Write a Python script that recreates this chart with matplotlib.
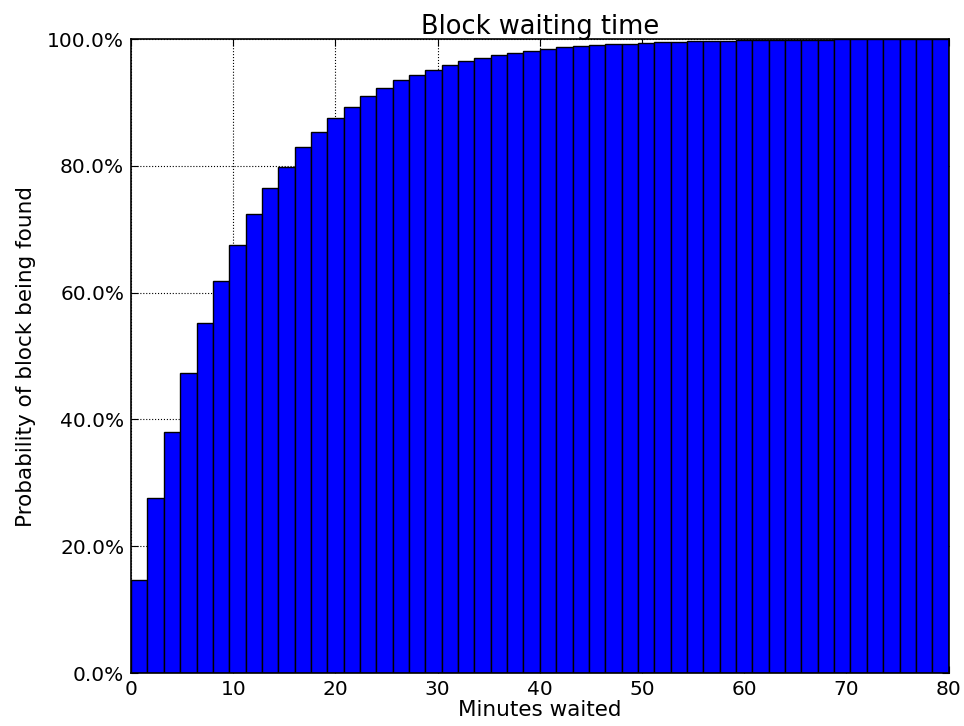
import numpy as np
import matplotlib
matplotlib.use('Agg')
import matplotlib.pyplot as plt
from matplotlib.ticker import FuncFormatter

# cumulative share of blocks found, one value per bin (bin width 1.6 min)
bin_width = 1.6
probs = [14.7, 27.6, 38.0, 47.3, 55.2, 61.8, 67.5, 72.4, 76.5, 79.8,
         83.0, 85.3, 87.5, 89.3, 91.0, 92.3, 93.5, 94.3, 95.2, 95.9,
         96.5, 97.0, 97.5, 97.9, 98.2, 98.5, 98.7, 98.9, 99.1, 99.2,
         99.3, 99.4, 99.5, 99.6, 99.65, 99.7, 99.75, 99.8, 99.85, 99.9,
         99.92, 99.94, 99.95, 99.96, 99.97, 99.98, 99.99, 100.0, 100.0, 100.0]
edges = np.arange(len(probs)) * bin_width

fig = plt.figure(figsize=(9.64, 7.26), dpi=100)
ax = fig.add_axes([0.136, 0.073, 0.848, 0.873])

ax.bar(edges, np.array(probs) / 100.0, width=bin_width, align='edge',
       color='#0000ff', edgecolor='black', linewidth=1.0, zorder=2)

ax.set_xlim(0, 80)
ax.set_ylim(0, 1.0)
ax.set_xticks(np.arange(0, 81, 10))
ax.set_yticks(np.arange(0, 1.01, 0.2))
ax.yaxis.set_major_formatter(FuncFormatter(lambda v, p: '%.1f%%' % (v * 100)))
ax.grid(True, linestyle=':', color='black', linewidth=0.8, zorder=0)
ax.set_axisbelow(True)
ax.tick_params(direction='in', top=True, right=True, length=5, labelsize=14.5,
               pad=5)
for s in ax.spines.values():
    s.set_linewidth(1.2)

ax.set_title('Block waiting time', fontsize=18.5, pad=4)
ax.set_xlabel('Minutes waited', fontsize=15.5, labelpad=1)
ax.set_ylabel('Probability of block being found', fontsize=15.5, labelpad=8)

fig.savefig('out.png', dpi=100, facecolor='white')
